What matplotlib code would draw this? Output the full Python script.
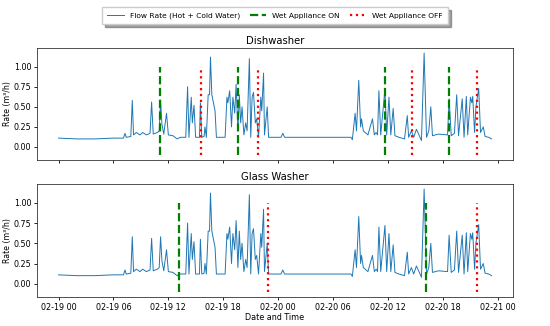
import numpy as np
import pandas as pd
import matplotlib
matplotlib.use("Agg")
import matplotlib.pyplot as plt
import matplotlib.dates as mdates

# flow rate, hours after 2019-02-19 00:00 and m3/h
hours = [0.0, 2.0, 4.0, 6.0, 7.1, 7.26, 7.4, 7.9, 8.06, 8.2, 8.5, 8.9, 9.2, 9.6, 10.0, 10.17, 10.35,
         10.8, 11.0, 11.15, 11.3, 11.5, 11.8, 12.0, 12.5, 12.96, 13.3, 13.9, 14.1, 14.25, 14.5, 14.62,
         14.8, 14.98, 15.4, 15.5, 15.65, 15.9, 16.0, 16.15, 16.35, 16.5, 16.6, 16.75, 17.1, 17.25, 17.5,
         18.2, 18.4, 18.5, 18.7, 18.9, 19.05, 19.25, 19.4, 19.6, 19.75, 19.9, 20.05, 20.25, 20.45, 20.6,
         20.85, 21.0, 21.15, 21.3, 21.5, 21.65, 21.85, 22.1, 22.2, 22.4, 22.5, 22.8, 22.95, 23.5, 24.3,
         24.5, 24.7, 26.0, 28.0, 30.0, 31.95, 32.1, 32.4, 32.55, 32.8, 33.0, 33.1, 33.3, 33.8, 34.3,
         34.5, 34.7, 34.85, 35.0, 35.2, 35.66, 35.85, 36.1, 36.3, 36.56, 36.75, 37.2, 37.8, 38.1, 38.25,
         38.55, 38.8, 39.1, 39.65, 39.94, 40.2, 40.45, 40.67, 40.85, 41.5, 42.5, 42.67, 42.9, 43.25,
         43.5, 43.7, 44.1, 44.3, 44.55, 44.7, 45.0, 45.15, 45.25, 45.45, 45.6, 45.9, 46.1, 46.4, 46.6,
         47.0, 47.3]
flow = [0.11, 0.10, 0.10, 0.11, 0.11, 0.17, 0.12, 0.13, 0.58, 0.15, 0.18, 0.15, 0.18, 0.15, 0.17,
        0.56, 0.16, 0.18, 0.20, 0.58, 0.28, 0.16, 0.42, 0.15, 0.14, 0.10, 0.12, 0.12, 0.75, 0.12,
        0.62, 0.30, 0.52, 0.12, 0.12, 0.55, 0.12, 0.13, 0.25, 0.12, 0.65, 0.65, 1.12, 0.65, 0.45,
        0.12, 0.12, 0.12, 0.62, 0.55, 0.70, 0.25, 0.62, 0.42, 0.78, 0.20, 0.65, 0.30, 0.50, 0.15,
        0.30, 0.20, 1.10, 0.12, 0.62, 0.68, 0.30, 0.35, 0.12, 0.62, 0.45, 0.92, 0.15, 0.50, 0.12,
        0.12, 0.12, 0.17, 0.12, 0.12, 0.12, 0.12, 0.12, 0.09, 0.42, 0.20, 0.83, 0.25, 0.35, 0.20,
        0.15, 0.35, 0.15, 0.18, 0.15, 0.70, 0.15, 0.72, 0.15, 0.62, 0.15, 0.48, 0.14, 0.12, 0.10,
        0.39, 0.12, 0.20, 0.12, 0.22, 0.08, 1.17, 0.12, 0.20, 0.50, 0.14, 0.16, 0.15, 0.60, 0.14,
        0.17, 0.65, 0.14, 0.60, 0.12, 0.63, 0.15, 0.62, 0.55, 0.63, 0.18, 0.50, 0.73, 0.18, 0.25,
        0.13, 0.12, 0.10]

dish_on = [11.1, 19.6, 35.7, 42.7]
dish_off = [15.6, 21.8, 38.6, 45.7]
glass_on = [13.2, 40.1]
glass_off = [22.9, 45.7]

start = pd.Timestamp("2019-02-19 00:00")
t = start + pd.to_timedelta(hours, unit="h")

fig = plt.figure(figsize=(5.5, 3.26), dpi=100)
ax1 = fig.add_axes([0.067, 0.509, 0.866, 0.344])
ax2 = fig.add_axes([0.067, 0.089, 0.866, 0.347], sharex=ax1)

panels = [(ax1, "Dishwasher", dish_on, dish_off),
          (ax2, "Glass Washer", glass_on, glass_off)]

for ax, title, on, off in panels:
    ax.plot(t, flow, color="#1f77b4", lw=0.7, label="Flow Rate (Hot + Cold Water)")
    ton = start + pd.to_timedelta(on, unit="h")
    toff = start + pd.to_timedelta(off, unit="h")
    ax.vlines(ton, -0.1, 1.0, colors="green", linestyles="--", lw=1.6, label="Wet Appliance ON")
    ax.vlines(toff, -0.1, 1.0, colors="red", linestyles=":", lw=1.6, label="Wet Appliance OFF")
    ax.set_title(title, fontsize=7.2, pad=3)
    ax.set_ylabel("Rate (m³/h)", fontsize=5.6, labelpad=1)
    ax.set_yticks([0, 0.25, 0.5, 0.75, 1.0])
    ax.tick_params(labelsize=5.8, width=0.6, length=2.5, pad=1.5)
    for s in ax.spines.values():
        s.set_linewidth(0.6)
        s.set_color("#333333")

ax2.xaxis.set_major_locator(mdates.HourLocator(byhour=[0, 6, 12, 18]))
ax2.xaxis.set_major_formatter(mdates.DateFormatter("%m-%d %H"))
plt.setp(ax1.get_xticklabels(), visible=False)
ax2.set_xlabel("Date and Time", fontsize=5.8, labelpad=1)

h, l = ax1.get_legend_handles_labels()
fig.legend(h, l, loc="upper center", bbox_to_anchor=(0.5, 0.99), ncol=3, fontsize=5.4,
           shadow=True, fancybox=False, handlelength=2.2, columnspacing=1.3, borderpad=0.7)

fig.savefig("out.png", dpi=100)
